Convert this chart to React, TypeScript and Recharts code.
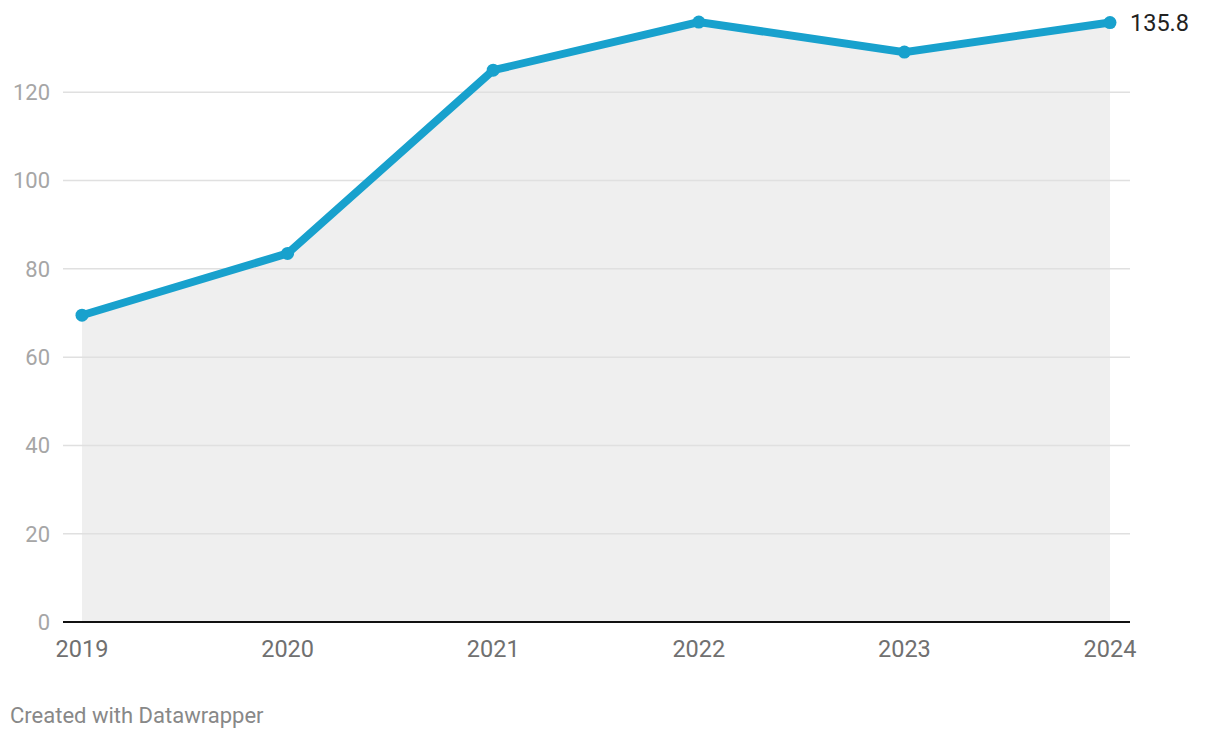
import React from "react";
import {
  ComposedChart,
  Area,
  Line,
  XAxis,
  YAxis,
  ReferenceLine,
} from "recharts";

const years = ["2019", "2020", "2021", "2022", "2023", "2024"];
const values = [69.5, 83.5, 125.0, 135.9, 129.1, 135.8];
const yTicks = [0, 20, 40, 60, 80, 100, 120];

const data = years.map((year, i) => ({ year, value: values[i] }));

const BLUE = "#18a1cd";
const FONT = "Roboto, 'Noto Sans', sans-serif";

// only the last point gets its value written beside it
const EndLabel = (props: any) => {
  const { x, y, index, value } = props;
  if (index !== data.length - 1) return null;
  return (
    <text
      x={x + 20}
      y={y}
      dy="0.35em"
      fill="#222"
      fontSize={23.5}
      fontFamily={FONT}
    >
      {value}
    </text>
  );
};

const App: React.FC = () => {
  return (
    <div
      style={{
        position: "absolute",
        left: 0,
        top: 0,
        width: 1220,
        height: 738,
        background: "#fff",
        fontFamily: FONT,
      }}
    >
      <ComposedChart
        width={1220}
        height={680}
        data={data}
        margin={{ top: 4, right: 90, bottom: 28, left: 0 }}
      >
        <XAxis
          dataKey="year"
          padding={{ left: 19, right: 20 }}
          axisLine={false}
          tickLine={false}
          tickSize={0}
          tickMargin={18}
          height={30}
          tick={{ fill: "#707070", fontSize: 23.5, fontFamily: FONT }}
        />
        <YAxis
          domain={[0, 140]}
          ticks={yTicks}
          width={63}
          axisLine={false}
          tickLine={false}
          tickSize={0}
          tickMargin={13}
          tick={{ fill: "#a6a6a6", fontSize: 22, fontFamily: FONT }}
        />
        <Area
          type="linear"
          dataKey="value"
          stroke="none"
          fill="#efefef"
          fillOpacity={1}
          isAnimationActive={false}
        />
        {/* gridlines drawn over the grey area, as in the original */}
        {yTicks
          .filter((t) => t > 0)
          .map((t) => (
            <ReferenceLine key={t} y={t} stroke="#e0e0e0" strokeWidth={1.5} />
          ))}
        <ReferenceLine y={0} stroke="#111" strokeWidth={2} />
        <Line
          type="linear"
          dataKey="value"
          stroke={BLUE}
          strokeWidth={8}
          dot={{ r: 6.5, fill: BLUE, stroke: "none" }}
          activeDot={false}
          label={<EndLabel />}
          isAnimationActive={false}
        />
      </ComposedChart>
      <div
        style={{
          position: "absolute",
          left: 10,
          top: 703,
          fontSize: 22,
          color: "#888",
          fontFamily: FONT,
        }}
      >
        Created with Datawrapper
      </div>
    </div>
  );
};

export default App;
